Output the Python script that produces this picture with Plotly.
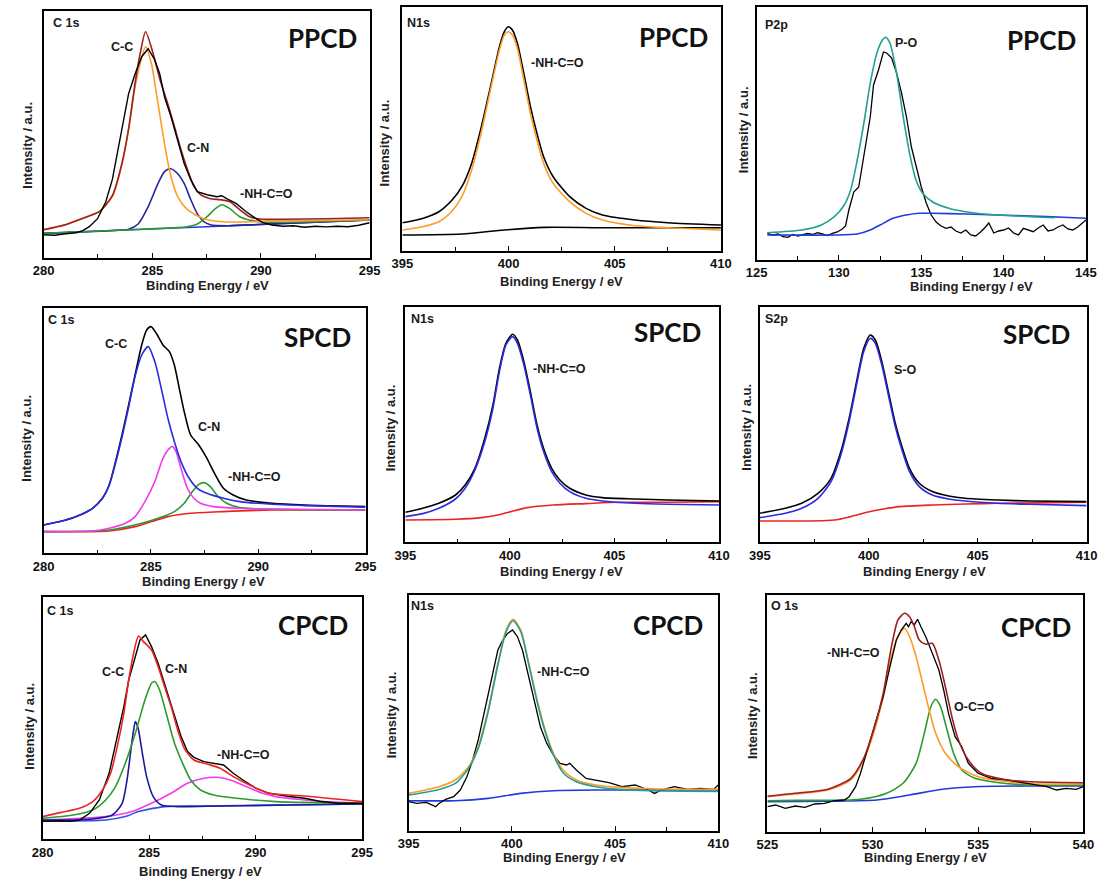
import plotly.graph_objects as go

W, H = 1110, 881

# ======================= DATA (binding energy / eV, intensity / a.u.) =======================
# ---- Panel 1: PPCD, C 1s ----
ppcd_c1s_raw_be = [280.0, 280.5, 281.0, 281.5, 281.8, 282.1, 282.48, 282.86, 283.16, 283.46, 283.69, 283.91,
                   284.21, 284.51, 284.81, 285.11, 285.34, 285.56, 285.86, 286.17, 286.47, 286.77, 287.07, 287.52,
                   287.97, 288.2, 288.42, 288.87, 289.32, 289.77, 290.1, 290.5, 291.0, 291.5, 292.0, 292.5, 293.0,
                   293.5, 294.0, 294.5, 295.0]
ppcd_c1s_raw = [23, 22.5, 24, 25, 27, 31, 39, 56, 78, 111, 138, 164, 184, 201, 209, 198, 184, 161, 141, 118, 94, 78,
                66, 63, 61, 62, 59, 54, 46, 39, 35, 32.7, 31.5, 32, 30.5, 31.5, 30.8, 31.5, 31, 32.5, 35]
ppcd_c1s_cc_be = [280.0, 280.5, 281.0, 281.35, 282.0, 282.56, 283.16, 283.61, 283.91, 284.21, 284.44, 284.69, 284.96,
                  285.19, 285.41, 285.64, 285.86, 286.17, 286.62, 287.37, 288.27, 289.62, 290.7, 292.0, 293.5, 295.0]
ppcd_c1s_cc = [28, 30.5, 33, 36, 41, 46, 61, 94, 128, 171, 194, 211, 194, 164, 134, 104, 81, 61, 48, 39, 36, 36, 37,
               37, 37.5, 38]
ppcd_c1s_env_be = [280.0, 281.0, 282.0, 282.56, 283.16, 283.61, 283.91, 284.21, 284.44, 284.69, 285.04, 285.34,
                   285.71, 286.02, 286.32, 286.62, 286.92, 287.22, 287.67, 288.12, 288.57, 289.02, 289.47, 290.07,
                   291.0, 293.0, 295.0]
ppcd_c1s_env = [28, 33, 41, 46, 62, 95, 129, 175, 204, 226, 204, 179, 154, 131, 108, 88, 71, 63, 59, 58, 56, 48, 41,
                38.5, 38.5, 39, 40]
ppcd_c1s_bg_be = [280.0, 287.5, 295.0]
ppcd_c1s_bg = [24.4, 31.0, 37.7]
ppcd_c1s_cn_be = [280.0, 283.0, 283.91, 284.36, 284.81, 285.26, 285.56, 285.84, 286.17, 286.47, 286.77, 287.07,
                  287.37, 287.67, 288.5, 290.0, 295.0]
ppcd_c1s_cn = [24.4, 27.0, 28.5, 34, 51, 74, 86, 89, 84, 74, 58, 44, 36, 33, 32, 33.3, 37.7]
ppcd_c1s_amide_be = [280.0, 284.0, 286.0, 286.6, 287.07, 287.52, 287.9, 288.2, 288.57, 289.02, 289.47, 290.0, 291.0,
                     295.0]
ppcd_c1s_amide = [24.4, 28, 30, 31, 33.7, 41, 49, 53, 49, 41, 37.7, 36, 35.5, 37.7]

# ---- Panel 2: PPCD, N1s ----
ppcd_n1s_be = [395.0, 395.95, 396.72, 397.34, 397.8, 398.26, 398.72, 399.18, 399.57, 399.8, 399.98, 400.18, 400.42,
               400.72, 401.03, 401.34, 401.65, 402.1, 402.88, 403.65, 404.42, 405.95, 407.5, 410.0]
ppcd_n1s_raw = [28, 32.3, 39, 50.7, 64, 87.3, 124, 167, 204, 219, 224, 220.7, 207, 177, 144, 117, 94, 74, 54, 42.3,
                35.7, 30.7, 28, 25.7]
ppcd_n1s_fit = [20.7, 24, 29, 39.7, 54, 80.7, 119, 164, 200.7, 215.7, 219, 215.7, 202, 170.7, 137, 110.7, 87.3, 67.3,
                49, 37.3, 30.7, 25, 23, 20.7]
ppcd_n1s_bg_be = [395.0, 397.8, 399.8, 401.65, 404.42, 410.0]
ppcd_n1s_bg = [15.7, 16.7, 20.7, 23.3, 23, 23]

# ---- Panel 3: PPCD, P2p ----
ppcd_p2p_fit_be = [125.65, 127.74, 128.93, 129.72, 130.32, 130.71, 131.11, 131.51, 131.9, 132.3, 132.64, 132.84,
                   133.1, 133.5, 133.9, 134.29, 134.68, 135.08, 135.67, 136.67, 137.66, 139.64, 141.63, 143.1]
ppcd_p2p_fit = [27.3, 30, 35, 43.3, 55, 70, 100, 136.7, 176.7, 206.7, 220, 222.7, 216.7, 186.7, 143.3, 106.7, 80,
                66.7, 58.3, 51.7, 48.3, 45, 43.3, 42.3]
ppcd_p2p_bg_be = [125.65, 129.72, 131.1, 131.9, 132.5, 133.29, 134.09, 134.88, 135.67, 137.66, 139.64, 141.63, 143.6,
                  145.0]
ppcd_p2p_bg = [25, 25, 26, 30, 35, 41.7, 45, 46.7, 46.7, 46, 45, 44, 42.7, 41.7]
ppcd_p2p_raw_be = [125.65, 126.0, 126.3, 126.6, 126.9, 127.2, 127.5, 127.8, 128.1, 128.4, 128.7, 129.0, 129.3, 129.6,
                   129.9, 130.2, 130.4, 130.6, 130.9, 131.2, 131.4, 131.6, 131.9, 132.1, 132.4, 132.7, 132.9, 133.2,
                   133.5, 133.8, 134.1, 134.4, 134.7, 135.0, 135.3, 135.6, 135.9, 136.2, 136.5, 136.8, 137.1, 137.4,
                   137.7, 138.0, 138.3, 138.6, 138.9, 139.1, 139.4, 139.7, 140.0, 140.3, 140.6, 140.9, 141.2, 141.5,
                   141.8, 142.1, 142.4, 142.7, 143.0, 143.3, 143.6, 143.9, 144.2, 144.5, 144.8, 145.0]
ppcd_p2p_raw = [26.7, 25, 26, 23.3, 22.7, 25.5, 24, 25, 26.5, 25.5, 27.3, 26, 24.5, 26.7, 28, 31, 34, 50, 68, 73, 93,
                113, 143, 175, 190, 208, 207, 202, 187, 167, 143, 113, 93, 73, 57, 45, 38, 34, 31.7, 33, 29, 27, 30,
                25, 24, 28, 33, 37, 27, 29, 30, 32, 27, 25, 31.7, 30, 28.3, 32, 35, 29, 30, 33, 35, 31, 30, 33, 37.3,
                40]

# ---- Panel 4: SPCD, C 1s ----
spcd_c1s_raw_be = [280.0, 280.76, 281.52, 282.28, 282.74, 283.05, 283.35, 283.65, 283.96, 284.26, 284.57, 284.8,
                   285.0, 285.25, 285.56, 285.86, 286.09, 286.32, 286.55, 286.85, 287.23, 287.61, 287.92, 288.38,
                   288.83, 289.44, 290.66, 292.18, 295.0]
spcd_c1s_raw = [28.3, 31.7, 36.7, 45, 55, 68.3, 91.7, 118.3, 148.3, 178.3, 208.3, 223.3, 226.7, 220, 208.3, 201.7,
                188.3, 165, 141.7, 118.3, 108.3, 95, 81.7, 65, 58.3, 53.3, 50, 48.3, 46.7]
spcd_c1s_cc_be = [280.0, 280.76, 281.52, 282.28, 282.74, 283.05, 283.35, 283.65, 283.96, 284.26, 284.57, 284.87,
                  285.18, 285.48, 285.79, 286.09, 286.4, 286.78, 287.16, 287.61, 288.38, 289.14, 290.66, 292.18, 295.0]
spcd_c1s_cc = [28.3, 31.7, 36.7, 45, 55, 67.5, 90, 116, 146, 176.7, 198.3, 206.7, 191.7, 165, 135, 111.7, 91.7, 75,
               65, 60, 55, 51.7, 49, 47.7, 46]
spcd_c1s_cn_be = [280.0, 282.28, 283.05, 283.81, 284.26, 284.72, 285.18, 285.56, 285.86, 286.01, 286.17, 286.4, 286.7,
                  287.0, 287.31, 287.92, 289.14, 290.66, 295.0]
spcd_c1s_cn = [21.7, 22.3, 25, 30, 36.7, 51.7, 71.7, 95, 105, 106.7, 101.7, 85, 65, 55, 50, 46.7, 45, 44.3, 43.3]
spcd_c1s_amide_be = [280.0, 283.05, 284.57, 285.33, 286.09, 286.55, 286.93, 287.23, 287.46, 287.77, 288.07, 288.53,
                     289.14, 290.66, 295.0]
spcd_c1s_amide = [21.7, 23.3, 30, 35, 41.7, 50, 61.7, 69, 70.7, 66.7, 58.3, 50, 45.7, 44, 43.3]
spcd_c1s_bg_be = [280.0, 283.05, 284.26, 285.03, 285.79, 286.85, 288.38, 290.66, 295.0]
spcd_c1s_bg = [21.7, 22.3, 26.7, 31.7, 36.7, 40, 41.7, 43.3, 43.3]

# ---- Panel 5: SPCD, N1s ----
spcd_n1s_be = [395.0, 395.83, 396.6, 397.4, 397.86, 398.33, 398.8, 399.19, 399.5, 399.81, 400.13, 400.36, 400.67,
               400.98, 401.3, 401.61, 402.0, 402.39, 402.86, 403.64, 404.42, 405.98, 407.55, 410.0]
spcd_n1s_raw = [30, 34, 39, 47.3, 57.3, 74, 104, 137.3, 174, 199, 208, 202.3, 180.7, 150.7, 117.3, 94, 74, 62.3, 54,
                47.3, 44.7, 43.3, 42.3, 41.3]
spcd_n1s_fit = [25.7, 28.7, 34, 43.3, 54, 72.3, 100.7, 134, 170.7, 197.3, 205.7, 199, 177.3, 147.3, 114, 90.7, 70.7,
                59, 50.7, 44, 41.3, 39, 38, 37.3]
spcd_n1s_bg_be = [395.0, 397.4, 398.64, 399.42, 400.05, 400.83, 402.08, 403.64, 405.2, 407.55, 410.0]
spcd_n1s_bg = [22.3, 23, 24.7, 27.3, 30.7, 34.7, 37.3, 38.7, 40, 40, 40.7]

# ---- Panel 6: SPCD, S2p ----
spcd_s2p_be = [395.0, 396.17, 396.92, 397.67, 398.27, 398.72, 399.1, 399.47, 399.77, 400.07, 400.3, 400.6, 400.9,
               401.2, 401.5, 401.87, 402.32, 402.92, 403.67, 404.42, 405.92, 407.42, 410.0]
spcd_s2p_raw = [29, 34, 39, 49, 64, 90.7, 124, 164, 194, 207.3, 202.3, 180.7, 150.7, 120.7, 97.3, 74, 59, 50.7, 46.3,
                44, 42.3, 41.3, 40.7]
spcd_s2p_fit = [24.7, 29, 34, 44, 60.7, 87.3, 120.7, 160.7, 190.7, 204, 199, 177.3, 147.3, 117.3, 94, 70.7, 55.7,
                47.3, 43.3, 41.3, 39, 38, 36.7]
spcd_s2p_bg_be = [395.0, 398.42, 399.17, 399.92, 400.67, 401.42, 402.92, 404.42, 405.92, 410.0]
spcd_s2p_bg = [21.3, 22.3, 25.7, 30, 33.3, 35.7, 37.3, 38.3, 39, 40]

# ---- Panel 7: CPCD, C 1s ----
cpcd_c1s_env_be = [280.0, 280.81, 281.73, 282.35, 282.81, 283.19, 283.5, 283.81, 284.04, 284.27, 284.5, 284.73,
                   285.11, 285.42, 285.72, 286.03, 286.34, 286.65, 287.1, 287.72, 288.33, 288.95, 289.71, 290.63,
                   292.3, 295.0]
cpcd_c1s_env = [22.7, 26.7, 31, 37.7, 49.3, 66, 92.7, 126, 159.3, 186, 203.3, 197.7, 189.3, 172.7, 152.7, 132.7,
                109.3, 91, 79.3, 75.3, 71, 62.7, 54.3, 46, 43.3, 37.7]
cpcd_c1s_raw_be = [280.0, 280.8, 281.3, 281.73, 282.2, 282.66, 283.12, 283.58, 283.81, 284.04, 284.35, 284.57, 284.83,
                   285.11, 285.42, 285.72, 285.95, 286.19, 286.5, 286.8, 287.1, 287.57, 288.03, 288.49, 288.95, 289.4,
                   290.02, 290.63, 291.5, 292.3, 293.0, 293.85, 295.0]
cpcd_c1s_raw = [18, 18.5, 18, 19.3, 26, 39.3, 66, 109.3, 132.7, 159.3, 182.7, 199.3, 204.3, 192.7, 176, 156, 139.3,
                122.7, 102.7, 87.7, 82, 77.7, 76, 74.3, 66, 59.3, 51, 46, 43, 41, 38, 36, 36]
cpcd_c1s_cn_be = [280.0, 281.43, 282.35, 282.96, 283.42, 283.88, 284.35, 284.8, 285.11, 285.26, 285.49, 285.8,
                  286.19, 286.57, 286.95, 287.41, 288.03, 289.1, 290.94, 295.0]
cpcd_c1s_cn = [21, 24.3, 29.3, 39.3, 52.7, 76, 106, 139.3, 156, 157.7, 149.3, 126, 96, 76, 59.3, 49.3, 44.3, 41,
               37.7, 36]
cpcd_c1s_cc_be = [280.0, 282.2, 283.27, 283.73, 283.96, 284.16, 284.26, 284.35, 284.42, 284.5, 284.68, 284.88,
                  285.19, 285.57, 286.34, 287.7, 290.94, 295.0]
cpcd_c1s_cc = [19.3, 20, 24.3, 36, 59.3, 92.7, 108, 117.7, 115, 109.3, 86, 62.7, 42.7, 34.3, 32.7, 33, 34, 35.3]
cpcd_c1s_bg_be = [280.0, 282.96, 283.88, 284.5, 285.72, 287.57, 290.94, 295.0]
cpcd_c1s_bg = [18, 19.3, 22.7, 27.7, 32.7, 33.3, 34.3, 35.3]
cpcd_c1s_amide_be = [280.0, 282.96, 284.19, 285.11, 286.03, 286.8, 287.57, 288.18, 288.8, 289.56, 290.33, 290.94,
                     292.0, 293.0, 295.0]
cpcd_c1s_amide = [19.3, 22.7, 27.7, 36, 46, 56, 61, 62, 59.3, 52.7, 46, 42.7, 40, 38, 36]

# ---- Panel 8: CPCD, N1s ----
cpcd_n1s_be = [395.0, 396.47, 397.26, 397.9, 398.37, 398.85, 399.32, 399.72, 400.06, 400.43, 400.82, 401.22, 401.61,
               402.01, 402.48, 403.12, 404.07, 405.17, 406.76, 410.0]
cpcd_n1s_env = [37.3, 44, 50.7, 64, 84, 120.7, 167.3, 200.7, 211.3, 200.7, 167.3, 130.7, 100.7, 77.3, 60.7, 50.7,
                45.7, 43.3, 42, 41.3]
cpcd_n1s_fit = [35.7, 41.3, 47.3, 62.3, 82.3, 119, 165.7, 199, 210, 199, 165.7, 129, 99, 75.7, 58, 49, 44, 41.3, 40,
                39.3]
cpcd_n1s_bg_be = [395.0, 397.26, 398.85, 400.43, 402.01, 404.38, 410.0]
cpcd_n1s_bg = [30, 30, 32.3, 37.3, 40, 40.7, 40.7]
cpcd_n1s_raw_be = [395.0, 395.4, 395.85, 396.31, 396.47, 396.79, 397.18, 397.5, 397.82, 398.05, 398.37, 398.69,
                   399.0, 399.32, 399.56, 399.79, 400.03, 400.27, 400.51, 400.74, 401.06, 401.38, 401.69, 402.01,
                   402.33, 402.64, 402.8, 403.12, 403.59, 404.07, 404.7, 405.33, 405.97, 406.6, 406.91, 407.23,
                   407.86, 408.5, 409.13, 409.76, 410.0]
cpcd_n1s_raw = [29, 27.3, 28.3, 24, 27.3, 31.3, 34, 40.7, 54, 67.3, 90.7, 120.7, 150.7, 180.7, 190.7, 197.3, 200.7,
                194, 180.7, 160.7, 130.7, 104, 87.3, 75.7, 67.3, 65.7, 67.3, 60.7, 52.3, 50.7, 48, 44, 45.7, 40.7,
                37.3, 40.7, 44, 41.3, 42.3, 41.3, 45.7]

# ---- Panel 9: CPCD, O 1s ----
cpcd_o1s_amide_be = [525.0, 526.32, 527.87, 528.96, 529.57, 530.04, 530.5, 530.89, 531.2, 531.51, 531.75, 532.06,
                     532.37, 532.68, 532.99, 533.45, 534.07, 535.0, 536.4, 537.5, 540.0]
cpcd_o1s_amide = [35, 37.7, 41.7, 51.7, 71.7, 98.4, 135, 175, 195, 203.4, 195, 175, 148.4, 121.7, 98.4, 78.4, 65, 55,
                  50, 48, 47.7]
cpcd_o1s_env_be = [525.0, 526.32, 527.87, 528.96, 529.57, 530.04, 530.5, 530.89, 531.2, 531.51, 531.75, 531.98,
                   532.21, 532.52, 532.83, 533.14, 533.45, 533.76, 534.07, 534.54, 535.16, 536.4, 537.5, 540.0]
cpcd_o1s_env = [35.5, 38.4, 42.5, 53.4, 73.4, 101.7, 138.4, 185, 211.7, 218.4, 215, 205, 191.7, 187.4, 188.4, 171.7,
                145, 115, 91.7, 71.7, 58.4, 51.7, 50, 49]
cpcd_o1s_ester_be = [525.0, 526.32, 529.42, 530.66, 531.44, 532.06, 532.45, 532.76, 532.99, 533.22, 533.53, 533.84,
                     534.23, 534.85, 536.0, 537.5, 540.0]
cpcd_o1s_ester = [31, 31.3, 32.4, 38.4, 48.4, 68.4, 98.4, 125, 132.4, 125, 101.7, 78.4, 61.7, 53.4, 49, 46.7, 46.7]
cpcd_o1s_bg_be = [525.0, 528.0, 530.2, 531.75, 533.3, 534.85, 537.5, 540.0]
cpcd_o1s_bg = [30, 30.5, 31.7, 36.7, 42.4, 45, 45.7, 45.7]
cpcd_o1s_raw_be = [525.0, 525.39, 525.85, 526.32, 526.78, 527.25, 527.71, 528.18, 528.65, 528.88, 529.19, 529.42,
                   529.65, 530.04, 530.5, 530.82, 531.12, 531.35, 531.59, 531.7, 531.82, 531.98, 532.13, 532.29,
                   532.52, 532.83, 533.14, 533.37, 533.6, 533.91, 534.23, 534.54, 535.0, 535.62, 536.4, 537.1, 537.7,
                   538.26, 538.73, 539.19, 539.66, 540.0]
cpcd_o1s_raw = [25, 26.7, 23.3, 25.7, 24.3, 27.7, 28.3, 31, 31.7, 35, 45, 58.4, 75, 101.7, 135, 165, 191.7, 201.7,
                208.4, 205, 210, 207, 212.4, 205, 195, 178.4, 161.7, 141.7, 118.4, 95, 85, 68.4, 58.4, 53.4, 51.7,
                49, 47, 45, 41.7, 43.3, 42.3, 45]

# ======================= LAYOUT =======================
FONT = "Liberation Sans, Arial, sans-serif"
BIG = "Lato, 'Open Sans', sans-serif"

# pixel boxes (left, top, right, bottom) and x range of each panel
panels = [
    dict(box=(33.3, 10.7, 365.9, 257.7), xr=(280, 295)),
    dict(box=(399.3, 7.3, 724.3, 250.7), xr=(395, 410)),
    dict(box=(760.7, 6.7, 1096.7, 260.0), xr=(125, 145)),
    dict(box=(33.3, 308.3, 361.7, 553.3), xr=(280, 295)),
    dict(box=(402.3, 307.3, 722.3, 542.3), xr=(395, 410)),
    dict(box=(764.0, 307.3, 1097.3, 542.3), xr=(395, 410)),
    dict(box=(32.3, 596.7, 358.3, 839.3), xr=(280, 295)),
    dict(box=(405.7, 595.0, 721.7, 830.7), xr=(395, 410)),
    dict(box=(771.7, 595.0, 1094.0, 831.7), xr=(525, 540)),
]

ORANGE = "#FF9B26"
BROWN = "#9E1F24"
NAVY = "#26269C"
BLUE = "#1F3BDD"
GREEN = "#2E9A2E"
TEAL = "#22A091"
MAGENTA = "#F03CF0"
RED = "#EE2222"
BLACK = "#000000"

fig = go.Figure()


def add(p, be, inten, color, shape="spline", width=1.6):
    fig.add_trace(go.Scatter(
        x=be, y=inten, mode="lines", xaxis=f"x{p}", yaxis=f"y{p}",
        line=dict(color=color, width=width, shape=shape, smoothing=0.7 if shape == "spline" else None),
        showlegend=False, hoverinfo="skip"))


# Panel 1
add(1, ppcd_c1s_bg_be, ppcd_c1s_bg, BLUE)
add(1, ppcd_c1s_cn_be, ppcd_c1s_cn, NAVY)
add(1, ppcd_c1s_amide_be, ppcd_c1s_amide, GREEN)
add(1, ppcd_c1s_cc_be, ppcd_c1s_cc, ORANGE)
add(1, ppcd_c1s_env_be, ppcd_c1s_env, BROWN)
add(1, ppcd_c1s_raw_be, ppcd_c1s_raw, BLACK, shape="linear", width=1.4)
# Panel 2
add(2, ppcd_n1s_bg_be, ppcd_n1s_bg, BLACK)
add(2, ppcd_n1s_be, ppcd_n1s_raw, BLACK)
add(2, ppcd_n1s_be, ppcd_n1s_fit, ORANGE)
# Panel 3
add(3, ppcd_p2p_raw_be, ppcd_p2p_raw, BLACK, shape="linear", width=1.3)
add(3, ppcd_p2p_bg_be, ppcd_p2p_bg, BLUE)
add(3, ppcd_p2p_fit_be, ppcd_p2p_fit, TEAL)
# Panel 4
add(4, spcd_c1s_bg_be, spcd_c1s_bg, RED)
add(4, spcd_c1s_amide_be, spcd_c1s_amide, GREEN)
add(4, spcd_c1s_cn_be, spcd_c1s_cn, MAGENTA)
add(4, spcd_c1s_raw_be, spcd_c1s_raw, BLACK)
add(4, spcd_c1s_cc_be, spcd_c1s_cc, "#2B2BE3")
# Panel 5
add(5, spcd_n1s_bg_be, spcd_n1s_bg, RED)
add(5, spcd_n1s_be, spcd_n1s_raw, BLACK)
add(5, spcd_n1s_be, spcd_n1s_fit, "#2B2BE3")
# Panel 6
add(6, spcd_s2p_bg_be, spcd_s2p_bg, RED)
add(6, spcd_s2p_be, spcd_s2p_raw, BLACK)
add(6, spcd_s2p_be, spcd_s2p_fit, "#2B2BE3")
# Panel 7
add(7, cpcd_c1s_bg_be, cpcd_c1s_bg, "#3050E8")
add(7, cpcd_c1s_amide_be, cpcd_c1s_amide, MAGENTA)
add(7, cpcd_c1s_cc_be, cpcd_c1s_cc, "#1B1B9A")
add(7, cpcd_c1s_cn_be, cpcd_c1s_cn, GREEN)
add(7, cpcd_c1s_raw_be, cpcd_c1s_raw, BLACK, shape="linear", width=1.4)
add(7, cpcd_c1s_env_be, cpcd_c1s_env, RED)
# Panel 8
add(8, cpcd_n1s_bg_be, cpcd_n1s_bg, BLUE)
add(8, cpcd_n1s_raw_be, cpcd_n1s_raw, BLACK, shape="linear", width=1.3)
add(8, cpcd_n1s_be, cpcd_n1s_env, ORANGE)
add(8, cpcd_n1s_be, cpcd_n1s_fit, TEAL)
# Panel 9
add(9, cpcd_o1s_bg_be, cpcd_o1s_bg, BLUE)
add(9, cpcd_o1s_ester_be, cpcd_o1s_ester, GREEN)
add(9, cpcd_o1s_amide_be, cpcd_o1s_amide, ORANGE)
add(9, cpcd_o1s_raw_be, cpcd_o1s_raw, BLACK, shape="linear", width=1.3)
add(9, cpcd_o1s_env_be, cpcd_o1s_env, BROWN)

layout = dict(
    width=W, height=H, margin=dict(l=0, r=0, t=0, b=0),
    paper_bgcolor="white", plot_bgcolor="white", showlegend=False,
)
for i, pnl in enumerate(panels, start=1):
    l, t, r, b = pnl["box"]
    lo, hi = pnl["xr"]
    layout[f"xaxis{i}"] = dict(
        domain=[l / W, r / W], range=[lo, hi], anchor=f"y{i}",
        tickmode="linear", tick0=lo, dtick=5, ticks="inside", ticklen=5, tickwidth=1, tickcolor="black",
        minor=dict(ticks="inside", ticklen=4, dtick=2.5, tick0=lo, tickcolor="black", showgrid=False),
        showline=True, mirror=True, linecolor="black", linewidth=1.5,
        showgrid=False, zeroline=False,
        tickfont=dict(family=FONT, size=13, color="#111111", weight="bold"),
    )
    layout[f"yaxis{i}"] = dict(
        domain=[1 - b / H, 1 - t / H], range=[0, b - t], anchor=f"x{i}",
        showticklabels=False, ticks="", showline=True, mirror=True, linecolor="black", linewidth=1.5,
        showgrid=False, zeroline=False,
    )

annotations = []


def note(text, x, y, size=12, xanchor="center", family=FONT, bold=True, angle=0, color="#1a1a1a"):
    annotations.append(dict(
        text=text, x=x / W, y=1 - y / H, xref="paper", yref="paper", xanchor=xanchor, yanchor="middle",
        showarrow=False, textangle=angle,
        font=dict(family=family, size=size, color=color, weight="bold" if bold else "normal")))


# axis titles
x_titles = [(200, 285), (561.7, 281.7), (980, 286.7), (196.7, 581), (561.7, 571), (931.7, 571),
            (193.3, 871.7), (565, 857.7), (933.3, 857.7)]
y_titles = [(16, 145), (382, 143), (747, 130), (16, 438), (387, 428), (750, 427.5), (18, 726), (388, 715),
            (756, 716)]
for (xx, yy) in x_titles:
    note("Binding Energy / eV", xx, yy, size=13, color="#222222")
for (xx, yy) in y_titles:
    note("Intensity / a.u.", xx, yy, size=13, angle=-90, color="#222222")

# sample labels
for txt, xx, yy in [("PPCD", 317.5, 38), ("PPCD", 675.7, 37), ("PPCD", 1051, 40),
                    ("SPCD", 312.5, 337), ("SPCD", 670, 332), ("SPCD", 1046, 334),
                    ("CPCD", 308, 625), ("CPCD", 670, 625), ("CPCD", 1046, 627)]:
    note(txt, xx, yy, size=26, family=BIG, color="#111111")

# core level labels
for txt, xx, yy in [("C 1s", 41, 23), ("N1s", 402, 23), ("P2p", 767, 25), ("C 1s", 36, 320),
                    ("N1s", 406, 319), ("S2p", 767, 319), ("C 1s", 35, 611), ("N1s", 406, 606),
                    ("O 1s", 773, 606)]:
    note(txt, xx, yy, size=12.5, xanchor="left")

# peak labels
for txt, xx, yy in [("C-C", 113, 47), ("C-N", 191, 148), ("-NH-C=O", 261, 194),
                    ("-NH-C=O", 558, 63), ("P-O", 914, 43),
                    ("C-C", 107.5, 344), ("C-N", 202, 427), ("-NH-C=O", 248, 477),
                    ("-NH-C=O", 560, 369), ("S-O", 913, 370),
                    ("C-C", 104, 672), ("C-N", 168, 669), ("-NH-C=O", 237, 755),
                    ("-NH-C=O", 564, 672), ("-NH-C=O", 860, 653), ("O-C=O", 982, 707)]:
    note(txt, xx, yy, size=12.5)

layout["annotations"] = annotations
fig.update_layout(**layout)
fig.write_html("out.html")
